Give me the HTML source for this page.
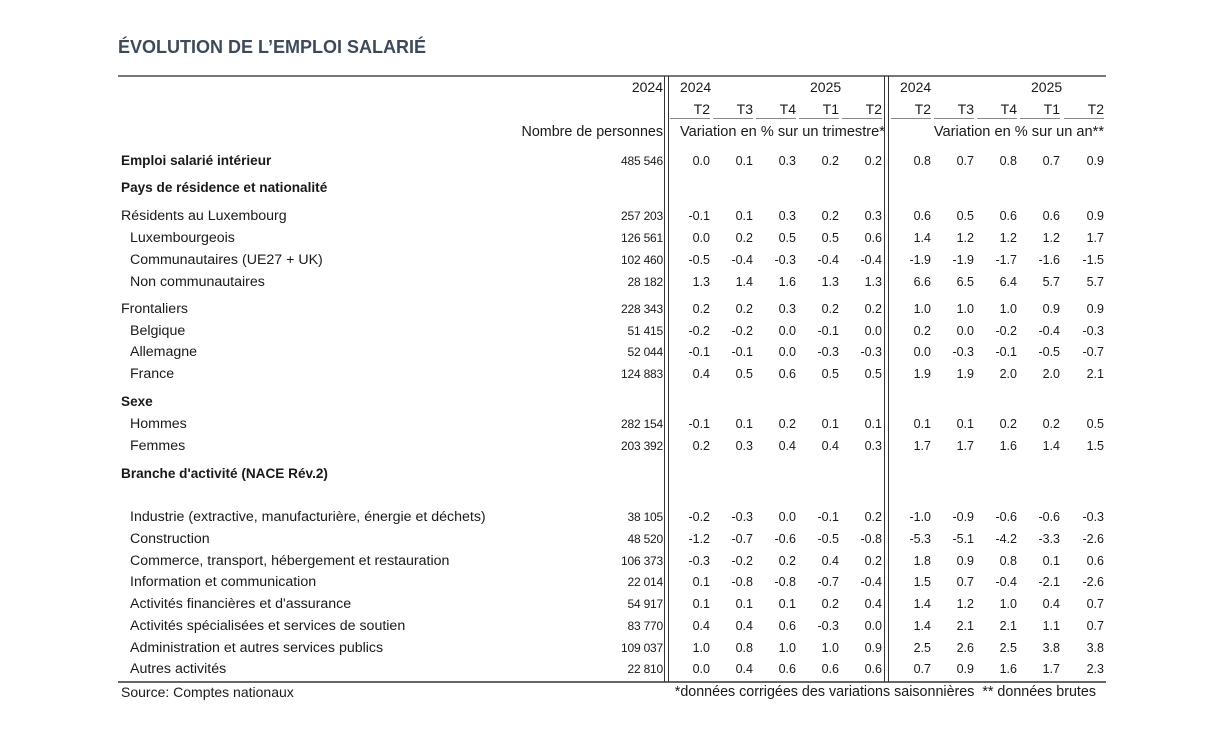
<!DOCTYPE html>
<html><head><meta charset="utf-8">
<style>
body{margin:0;background:#fff;width:1224px;height:743px;overflow:hidden;position:relative;font-family:"Liberation Sans",sans-serif;color:#1a1a1a}
.t{position:absolute;white-space:nowrap;font-size:14px;line-height:16px}
.r{text-align:right}
.b{font-weight:bold}
.ln{position:absolute;background:#555}
</style></head><body>
<div class="t b" style="left:118px;top:36px;font-size:18px;line-height:22px;color:#3d4a5a">ÉVOLUTION DE L’EMPLOI SALARIÉ</div>
<div id="root"></div>
<script>
const labels=["Emploi salarié intérieur","Pays de résidence et nationalité","Résidents au Luxembourg","Luxembourgeois","Communautaires (UE27 + UK)","Non communautaires","Frontaliers","Belgique","Allemagne","France","Sexe","Hommes","Femmes","Branche d'activité (NACE Rév.2)","Industrie (extractive, manufacturière, énergie et déchets)","Construction","Commerce, transport, hébergement et restauration","Information et communication","Activités financières et d'assurance","Activités spécialisées et services de soutien","Administration et autres services publics","Autres activités"];
const rowY=[161,188,216,238,260,282,309,331,352,374,402,424,446,474,517,539,561,582,604,626,648,669];
const bold=[1,1,0,0,0,0,0,0,0,0,1,0,0,1,0,0,0,0,0,0,0,0];
const indent=[0,0,0,1,1,1,0,1,1,1,0,1,1,0,1,1,1,1,1,1,1,1];
const persons=["485 546","","257 203","126 561","102 460","28 182","228 343","51 415","52 044","124 883","","282 154","203 392","","38 105","48 520","106 373","22 014","54 917","83 770","109 037","22 810"];
const qoq=[["0.0","0.1","0.3","0.2","0.2"],null,["-0.1","0.1","0.3","0.2","0.3"],["0.0","0.2","0.5","0.5","0.6"],["-0.5","-0.4","-0.3","-0.4","-0.4"],["1.3","1.4","1.6","1.3","1.3"],["0.2","0.2","0.3","0.2","0.2"],["-0.2","-0.2","0.0","-0.1","0.0"],["-0.1","-0.1","0.0","-0.3","-0.3"],["0.4","0.5","0.6","0.5","0.5"],null,["-0.1","0.1","0.2","0.1","0.1"],["0.2","0.3","0.4","0.4","0.3"],null,["-0.2","-0.3","0.0","-0.1","0.2"],["-1.2","-0.7","-0.6","-0.5","-0.8"],["-0.3","-0.2","0.2","0.4","0.2"],["0.1","-0.8","-0.8","-0.7","-0.4"],["0.1","0.1","0.1","0.2","0.4"],["0.4","0.4","0.6","-0.3","0.0"],["1.0","0.8","1.0","1.0","0.9"],["0.0","0.4","0.6","0.6","0.6"]];
const yoy=[["0.8","0.7","0.8","0.7","0.9"],null,["0.6","0.5","0.6","0.6","0.9"],["1.4","1.2","1.2","1.2","1.7"],["-1.9","-1.9","-1.7","-1.6","-1.5"],["6.6","6.5","6.4","5.7","5.7"],["1.0","1.0","1.0","0.9","0.9"],["0.2","0.0","-0.2","-0.4","-0.3"],["0.0","-0.3","-0.1","-0.5","-0.7"],["1.9","1.9","2.0","2.0","2.1"],null,["0.1","0.1","0.2","0.2","0.5"],["1.7","1.7","1.6","1.4","1.5"],null,["-1.0","-0.9","-0.6","-0.6","-0.3"],["-5.3","-5.1","-4.2","-3.3","-2.6"],["1.8","0.9","0.8","0.1","0.6"],["1.5","0.7","-0.4","-2.1","-2.6"],["1.4","1.2","1.0","0.4","0.7"],["1.4","2.1","2.1","1.1","0.7"],["2.5","2.6","2.5","3.8","3.8"],["0.7","0.9","1.6","1.7","2.3"]];
const quarters=["T2","T3","T4","T1","T2"];
const qRight=[710,753,796,839,882];
const aRight=[931,974,1017,1060,1104];
const root=document.getElementById('root');
function txt(s,x,y,cls,right){const d=document.createElement('div');d.className='t '+(cls||'');d.textContent=s;
 if(right){d.style.right=(1224-x)+'px';d.style.textAlign='right';}else d.style.left=x+'px';
 d.style.top=(y-8)+'px';root.appendChild(d);return d;}
function line(x,y,w,h,c){const d=document.createElement('div');d.className='ln';d.style.left=x+'px';d.style.top=y+'px';d.style.width=w+'px';d.style.height=h+'px';if(c)d.style.background=c;


root.appendChild(d);}
line(118,75,988,2,'#777');
line(118,681,988,2,'#666');
[664,668,884,888].forEach(x=>line(x,76,1.3,606,'#333'));
let e;
e=txt("2024",663,87,'',true);
e=txt("2024",680,87);
e=txt("2025",810,87);
e=txt("2024",900,87);
e=txt("2025",1031,87);
quarters.forEach((q,i)=>{
 e=txt(q,qRight[i],109,'',true);
 line(qRight[i]-40,118,40,1,'#888');
 e=txt(q,aRight[i],109,'',true);
 line(aRight[i]-40,118,40,1,'#888');
});
e=txt("Nombre de personnes",663,132,'',true);e.style.fontSize='14.3px';
e=txt("Variation en % sur un trimestre*",680,132);e.style.fontSize='14.6px';
e=txt("Variation en % sur un an**",1104,132,'',true);e.style.fontSize='14.6px';
labels.forEach((l,i)=>{
 const y=rowY[i];
 e=txt(l,indent[i]?130:121,y,bold[i]?'b':'');e.style.fontSize=bold[i]?'13.6px':'14.2px';
 
 
 if(persons[i]){e=txt(persons[i],663,y,'',true);e.style.fontSize='12px';e.style.letterSpacing='-0.2px';
 
 }
 if(qoq[i])qoq[i].forEach((v,j)=>{e=txt(v,qRight[j],y,'',true);e.style.fontSize='12.5px';
 
 });
 if(yoy[i])yoy[i].forEach((v,j)=>{e=txt(v,aRight[j],y,'',true);e.style.fontSize='12.5px';
 
 });
});
e=txt("Source: Comptes nationaux",121,692);
e=txt("*données corrigées des variations saisonnières  ** données brutes",1096,692,'',true);e.style.whiteSpace='pre';e.style.fontSize='14.3px';
</script>
</body></html>
